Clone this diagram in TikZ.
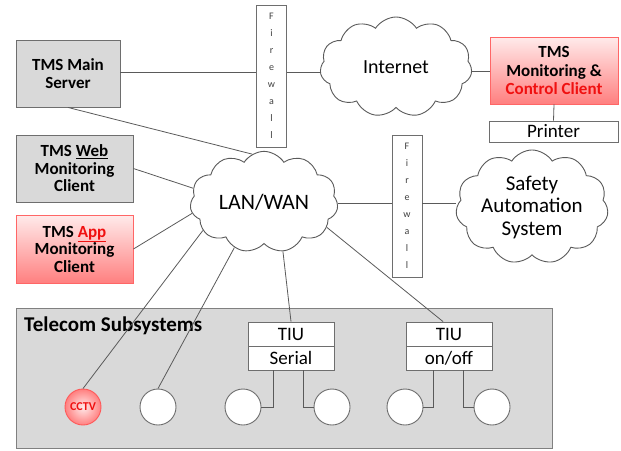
\documentclass[tikz,border=0pt]{standalone}
\usepackage{fontspec}
\setmainfont{Carlito}
\usetikzlibrary{shapes.symbols,shadows}
\definecolor{boxgray}{HTML}{D9D9D9}
\definecolor{edgegray}{HTML}{6E6E6E}
\definecolor{linegray}{HTML}{5A5A5A}
\definecolor{redtext}{HTML}{F01010}
\begin{document}
\begin{tikzpicture}[x=1pt,y=-1pt,
  conn/.style={draw=linegray,line width=0.8pt},
  graybox/.style={rectangle,draw=edgegray,line width=0.9pt,fill=boxgray,inner sep=0pt,align=center,
    font=\bfseries\fontsize{17}{17.5}\selectfont,drop shadow={shadow xshift=1pt,shadow yshift=-1pt,opacity=0.35}},
  redbox/.style={rectangle,draw=red!60!white,line width=0.9pt,top color=red!8,bottom color=red!50,inner sep=0pt,align=center,
    font=\bfseries\fontsize{17}{17.5}\selectfont,drop shadow={shadow xshift=1pt,shadow yshift=-1pt,opacity=0.3}},
  wbox/.style={rectangle,draw=edgegray,line width=0.9pt,fill=white,inner sep=0pt,align=center,font=\fontsize{19}{21}\selectfont},
  fwall/.style={rectangle,draw=edgegray,line width=0.9pt,fill=white,inner sep=0pt,align=center,
    minimum width=30,minimum height=142,font=\fontsize{10}{17}\selectfont,text=black!75},
  netcloud/.style={cloud,cloud puffs=11,cloud puff arc=115,aspect=1.5,draw=linegray,line width=0.9pt,fill=white,
    inner sep=0pt,align=center},
  leaf/.style={circle,draw=edgegray,line width=0.9pt,fill=white,minimum size=36,inner sep=0pt}]
\useasboundingbox (0,0) rectangle (621,450);

% telecom subsystem frame
\node[rectangle,draw=black!50,line width=0.9pt,fill=boxgray,minimum width=536,minimum height=140,inner sep=0pt]
  (tel) at (284,378) {};
\node[anchor=west,font=\bfseries\fontsize{21}{21}\selectfont,inner sep=0pt] (tellab) at (24,326) {Telecom Subsystems};

% top row
\node[graybox,minimum width=104,minimum height=67] (ms) at (68,73.5) {TMS Main\\Server};
\node[fwall] (fw1) at (271.5,76) {F\\i\\r\\e\\w\\a\\l\\l};
\node[netcloud,minimum width=152,minimum height=100,font=\fontsize{20}{22}\selectfont] (inet) at (396,67) {Internet};
\node[redbox,minimum width=128,minimum height=67,font=\bfseries\fontsize{17}{18.5}\selectfont] (tmc) at (554,70.5)
  {TMS\\Monitoring \&\\\textcolor{redtext}{Control Client}};
\node[wbox,minimum width=129,minimum height=21] (prn) at (553.5,131.5) {Printer};

% middle
\node[graybox,minimum width=117,minimum height=67] (web) at (74.5,168.5) {TMS \underline{Web}\\Monitoring\\Client};
\node[redbox,minimum width=117,minimum height=68] (app) at (74.5,249) {TMS \textcolor{redtext}{\underline{App}}\\Monitoring\\Client};
\node[netcloud,minimum width=148,minimum height=99,font=\fontsize{22}{24}\selectfont] (lan) at (264,202) {LAN/WAN};
\node[fwall] (fw2) at (407,206) {F\\i\\r\\e\\w\\a\\l\\l};
\node[netcloud,minimum width=150,minimum height=100,font=\fontsize{21}{22.5}\selectfont] (saf) at (532,207) {Safety\\Automation\\System};

% TIU boxes
\node[wbox,minimum width=86,minimum height=24] (tiu1a) at (291,334) {TIU};
\node[wbox,minimum width=86,minimum height=24] (tiu1b) at (291,358) {Serial};
\node[wbox,minimum width=86,minimum height=24] (tiu2a) at (449,334) {TIU};
\node[wbox,minimum width=86,minimum height=24] (tiu2b) at (449,358) {on/off};

% leaf devices
\node[circle,draw=red!65,line width=0.9pt,inner color=red!8,outer color=red!50,minimum size=36,inner sep=0pt,
  font=\bfseries\fontsize{12}{12}\selectfont,text=redtext] (cctv) at (83,407) {CCTV};
\node[leaf] (c2) at (158,407) {};
\node[leaf] (c3) at (243,407) {};
\node[leaf] (c4) at (332,407) {};
\node[leaf] (c5) at (405,407) {};
\node[leaf] (c6) at (492,407) {};

% connectors
\draw[conn] (ms.east |- 0,72) -- (fw1.west |- 0,72);
\draw[conn] (fw1.east |- 0,72) -- (inet.west |- 0,72);
\draw[conn] (tmc.west |- 0,71) -- (inet.east |- 0,71);
\draw[conn] (tmc.south) -- (prn.north);
\draw[conn] (ms.south) -- (lan.104);
\draw[conn] (web.east) -- (lan.169);
\draw[conn] (app.east) -- (lan.189);
\draw[conn] (lan.east |- 0,203) -- (fw2.west |- 0,203);
\draw[conn] (fw2.east |- 0,203) -- (saf.west |- 0,203);
\draw[conn] (lan.205) -- (cctv.north);
\draw[conn] (lan.237) -- (c2.north);
\draw[conn] (lan.291) -- (tiu1a.north);
\draw[conn] (lan.338) -- ([xshift=-6pt]tiu2a.north);
\draw[conn] ([xshift=-18pt]tiu1b.south) |- (c3.east);
\draw[conn] ([xshift=12pt]tiu1b.south) |- (c4.west);
\draw[conn] ([xshift=-16pt]tiu2b.south) |- (c5.east);
\draw[conn] ([xshift=14pt]tiu2b.south) |- (c6.west);
\end{tikzpicture}
\end{document}
